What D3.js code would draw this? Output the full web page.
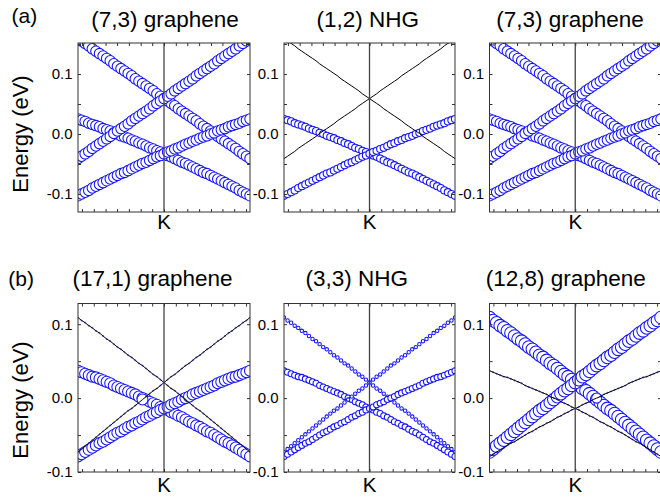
<!DOCTYPE html>
<html>
<head>
<meta charset="utf-8">
<script src="https://cdn.jsdelivr.net/npm/d3@7"></script>
<style>
  body { margin: 0; background: #fff; }
  svg { display: block; }
  text { font-family: "Liberation Sans", Arial, Helvetica, sans-serif; fill: #000; }
</style>
</head>
<body>
<svg id="fig" width="660" height="502"></svg>
<script>
// Band energies (eV) on a 49-point k path through K (index 24 = K).
// Row (a): upper Dirac pair and lower Dirac pair.
const upperDown = [0.159,0.155,0.151,0.147,0.142,0.138,0.134,0.130,0.126,0.122,0.117,0.113,0.109,0.105,0.101,0.097,0.092,0.088,0.084,0.080,0.076,0.072,0.067,0.063,0.059,0.055,0.051,0.047,0.042,0.038,0.034,0.030,0.026,0.022,0.017,0.013,0.009,0.005,0.001,-0.004,-0.008,-0.012,-0.016,-0.020,-0.024,-0.029,-0.033,-0.037,-0.041];
const upperUp = [-0.041,-0.037,-0.033,-0.029,-0.024,-0.020,-0.016,-0.012,-0.008,-0.004,0.001,0.005,0.009,0.013,0.017,0.022,0.026,0.030,0.034,0.038,0.042,0.047,0.051,0.055,0.059,0.063,0.067,0.072,0.076,0.080,0.084,0.088,0.092,0.097,0.101,0.105,0.109,0.113,0.117,0.122,0.126,0.130,0.134,0.138,0.142,0.147,0.151,0.155,0.159];
const lowerDown = [0.025,0.023,0.021,0.018,0.016,0.014,0.012,0.009,0.007,0.005,0.002,0.000,-0.003,-0.005,-0.007,-0.010,-0.012,-0.015,-0.017,-0.020,-0.023,-0.025,-0.028,-0.030,-0.033,-0.036,-0.038,-0.041,-0.044,-0.047,-0.049,-0.052,-0.055,-0.058,-0.061,-0.064,-0.066,-0.069,-0.072,-0.075,-0.078,-0.081,-0.084,-0.087,-0.090,-0.094,-0.097,-0.100,-0.103];
const lowerUp = [-0.103,-0.100,-0.097,-0.094,-0.090,-0.087,-0.084,-0.081,-0.078,-0.075,-0.072,-0.069,-0.066,-0.064,-0.061,-0.058,-0.055,-0.052,-0.049,-0.047,-0.044,-0.041,-0.038,-0.036,-0.033,-0.030,-0.028,-0.025,-0.023,-0.020,-0.017,-0.015,-0.012,-0.010,-0.007,-0.005,-0.003,0.000,0.002,0.005,0.007,0.009,0.012,0.014,0.016,0.018,0.021,0.023,0.025];

// Row (b): outer and inner Dirac pairs.
const outerDown = [0.109,0.105,0.102,0.098,0.095,0.091,0.088,0.084,0.080,0.077,0.073,0.069,0.066,0.062,0.058,0.055,0.051,0.047,0.044,0.040,0.036,0.032,0.029,0.025,0.021,0.017,0.013,0.010,0.006,0.002,-0.002,-0.006,-0.010,-0.014,-0.017,-0.021,-0.025,-0.029,-0.033,-0.037,-0.041,-0.045,-0.049,-0.053,-0.057,-0.061,-0.065,-0.069,-0.073];
const outerUp = [-0.073,-0.069,-0.065,-0.061,-0.057,-0.053,-0.049,-0.045,-0.041,-0.037,-0.033,-0.029,-0.025,-0.021,-0.017,-0.014,-0.010,-0.006,-0.002,0.002,0.006,0.010,0.013,0.017,0.021,0.025,0.029,0.032,0.036,0.040,0.044,0.047,0.051,0.055,0.058,0.062,0.066,0.069,0.073,0.077,0.080,0.084,0.088,0.091,0.095,0.098,0.102,0.105,0.109];
const innerDown = [0.037,0.035,0.033,0.031,0.029,0.028,0.026,0.024,0.022,0.020,0.017,0.015,0.013,0.011,0.009,0.007,0.005,0.002,0.000,-0.002,-0.005,-0.007,-0.009,-0.012,-0.014,-0.016,-0.019,-0.021,-0.024,-0.026,-0.029,-0.032,-0.034,-0.037,-0.039,-0.042,-0.045,-0.047,-0.050,-0.053,-0.056,-0.059,-0.061,-0.064,-0.067,-0.070,-0.073,-0.076,-0.079];
const innerUp = [-0.079,-0.076,-0.073,-0.070,-0.067,-0.064,-0.061,-0.059,-0.056,-0.053,-0.050,-0.047,-0.045,-0.042,-0.039,-0.037,-0.034,-0.032,-0.029,-0.026,-0.024,-0.021,-0.019,-0.016,-0.014,-0.012,-0.009,-0.007,-0.005,-0.002,0.000,0.002,0.005,0.007,0.009,0.011,0.013,0.015,0.017,0.020,0.022,0.024,0.026,0.028,0.029,0.031,0.033,0.035,0.037];

// Panel titles
const topTitles = ["(7,3) graphene", "(1,2) NHG", "(7,3) graphene"];
const bottomTitles = ["(17,1) graphene", "(3,3) NHG", "(12,8) graphene"];

// Projected weights per band, in the order [down-1, down-2, up-1, up-2]
const topWeights = [
  [0.83, 0.83, 0.83, 0.83],
  [0.00, 0.57, 0.00, 0.57],
  [0.83, 0.83, 0.83, 0.83]
];
const bottomWeights = [
  [0.10, 0.88, 0.10, 0.88],
  [0.27, 0.48, 0.27, 0.48],
  [1.00, 0.10, 1.00, 0.10]
];
// Single k-points where a weak band picks up weight near an anticrossing
const weightPeaks = [
  { row: 1, panel: 0, band: 2, k: 18, w: 0.87 },
  { row: 1, panel: 2, band: 3, k: 30, w: 0.80 }
];

// Axis ticks
const kMinorTicks = [1.1, 4.4, 7.7, 10.9, 14.2, 17.5, 20.7, 24, 27.3, 30.5, 33.8, 37.1, 40.3, 43.6, 46.9];
const kLabel = "K";
const topEnergyTicks = [-0.1, -0.05, 0, 0.05, 0.1, 0.15];
const bottomEnergyTicks = [-0.1, -0.05, 0, 0.05, 0.1];
const energyLabelled = [-0.1, 0, 0.1];

// ---- layout ----
const svg = d3.select("#fig");
const panelX = [[78, 250], [284, 455], [489.5, 661]];
const rows = [
  { bands: [upperDown, lowerDown, upperUp, lowerUp], weights: topWeights, titles: topTitles,
    titleX: [165, 367.7, 570], titleY: 27, yDomain: [-0.13, 0.1517], yRange: [212, 43],
    ticks: topEnergyTicks, kY: 229, tag: "(a)", tagX: 11.5, tagY: 22.5, ylabY: 134 },
  { bands: [outerDown, innerDown, outerUp, innerUp], weights: bottomWeights, titles: bottomTitles,
    titleX: [152.5, 356.7, 565.8], titleY: 285.5, yDomain: [-0.1, 0.128], yRange: [472, 303.5],
    ticks: bottomEnergyTicks, kY: 492, tag: "(b)", tagX: 8.3, tagY: 285.5, ylabY: 400 }
];

const rScale = d3.scaleLinear().domain([0, 1]).range([0, 6.3]);
const blue = "#1212ff";
const frameColor = "#333";

rows.forEach((row, ri) => {
  // row tag and energy axis title
  svg.append("text").attr("x", row.tagX).attr("y", row.tagY)
    .attr("font-size", 21).text(row.tag);
  svg.append("text")
    .attr("transform", `translate(27.5,${row.ylabY}) rotate(-90)`)
    .attr("text-anchor", "middle").attr("font-size", 22).text("Energy (eV)");

  panelX.forEach((px, pi) => {
    const x = d3.scaleLinear().domain([0, 48]).range(px);
    const y = d3.scaleLinear().domain(row.yDomain).range(row.yRange);
    const g = svg.append("g");
    const clipId = `clip-${ri}-${pi}`;
    g.append("clipPath").attr("id", clipId).append("rect")
      .attr("x", px[0]).attr("y", row.yRange[1])
      .attr("width", px[1] - px[0]).attr("height", row.yRange[0] - row.yRange[1]);
    const plot = g.append("g").attr("clip-path", `url(#${clipId})`);

    const w = row.weights[pi];
    const pointWeight = (b, k) => {
      const pk = weightPeaks.find(d => d.row === ri && d.panel === pi && d.band === b && d.k === k);
      return pk ? pk.w : w[b];
    };

    // strongly weighted bands: open circles, drawn along increasing k
    row.bands.forEach((band, b) => {
      if (w[b] < 0.15) return;
      plot.append("g").selectAll("circle")
        .data(band.map((e, k) => ({ k, e })))
        .join("circle")
        .attr("cx", d => x(d.k)).attr("cy", d => y(d.e))
        .attr("r", d => rScale(pointWeight(b, d.k)))
        .attr("fill", "#fff").attr("stroke", blue).attr("stroke-width", 1.05);
    });

    // weakly weighted bands: thin black line with their (small) circles
    row.bands.forEach((band, b) => {
      if (w[b] >= 0.15) return;
      const pts = band.map((e, k) => ({ k, e, r: rScale(pointWeight(b, k)) }));
      plot.append("g").selectAll("circle")
        .data(pts.filter(d => d.r > 0.3))
        .join("circle")
        .attr("cx", d => x(d.k)).attr("cy", d => y(d.e)).attr("r", d => d.r)
        .attr("fill", "#fff").attr("stroke", blue).attr("stroke-width", d => d.r > 2 ? 1.05 : 0.6);
      plot.append("path").datum(pts)
        .attr("d", d3.line().x(d => x(d.k)).y(d => y(d.e)))
        .attr("fill", "none").attr("stroke", "#000").attr("stroke-width", 1);
    });

    // vertical line at K
    plot.append("line").attr("x1", x(24)).attr("x2", x(24))
      .attr("y1", row.yRange[0]).attr("y2", row.yRange[1])
      .attr("stroke", "#444").attr("stroke-width", 1.3);

    // axes with inward ticks on all four sides
    const fmt = v => energyLabelled.some(t => Math.abs(t - v) < 1e-9) ? v.toFixed(1) : "";
    const axes = [
      [d3.axisLeft(y).tickValues(row.ticks).tickSize(-3).tickPadding(5.5).tickFormat(fmt), `translate(${px[0]},0)`],
      [d3.axisRight(y).tickValues(row.ticks).tickSize(-3).tickFormat(""), `translate(${px[1]},0)`],
      [d3.axisBottom(x).tickValues(kMinorTicks).tickSize(-3).tickFormat(""), `translate(0,${row.yRange[0]})`],
      [d3.axisTop(x).tickValues(kMinorTicks).tickSize(-3).tickFormat(""), `translate(0,${row.yRange[1]})`]
    ];
    axes.forEach(([ax, tr]) => {
      const a = g.append("g").attr("transform", tr).call(ax);
      a.select(".domain").remove();
      a.selectAll("line").attr("stroke", frameColor);
      a.selectAll("text").attr("font-size", 15)
        .style("font-family", '"Liberation Sans", Arial, sans-serif').attr("fill", "#000");
    });

    // frame
    g.append("rect").attr("x", px[0]).attr("y", row.yRange[1])
      .attr("width", px[1] - px[0]).attr("height", row.yRange[0] - row.yRange[1])
      .attr("fill", "none").attr("stroke", frameColor).attr("stroke-width", 1);

    // K label and title
    g.append("text").attr("x", x(24)).attr("y", row.kY)
      .attr("text-anchor", "middle").attr("font-size", 20.5).text(kLabel);
    g.append("text").attr("x", row.titleX[pi]).attr("y", row.titleY)
      .attr("text-anchor", "middle").attr("font-size", 22.5).text(row.titles[pi]);
  });
});
</script>
</body>
</html>
